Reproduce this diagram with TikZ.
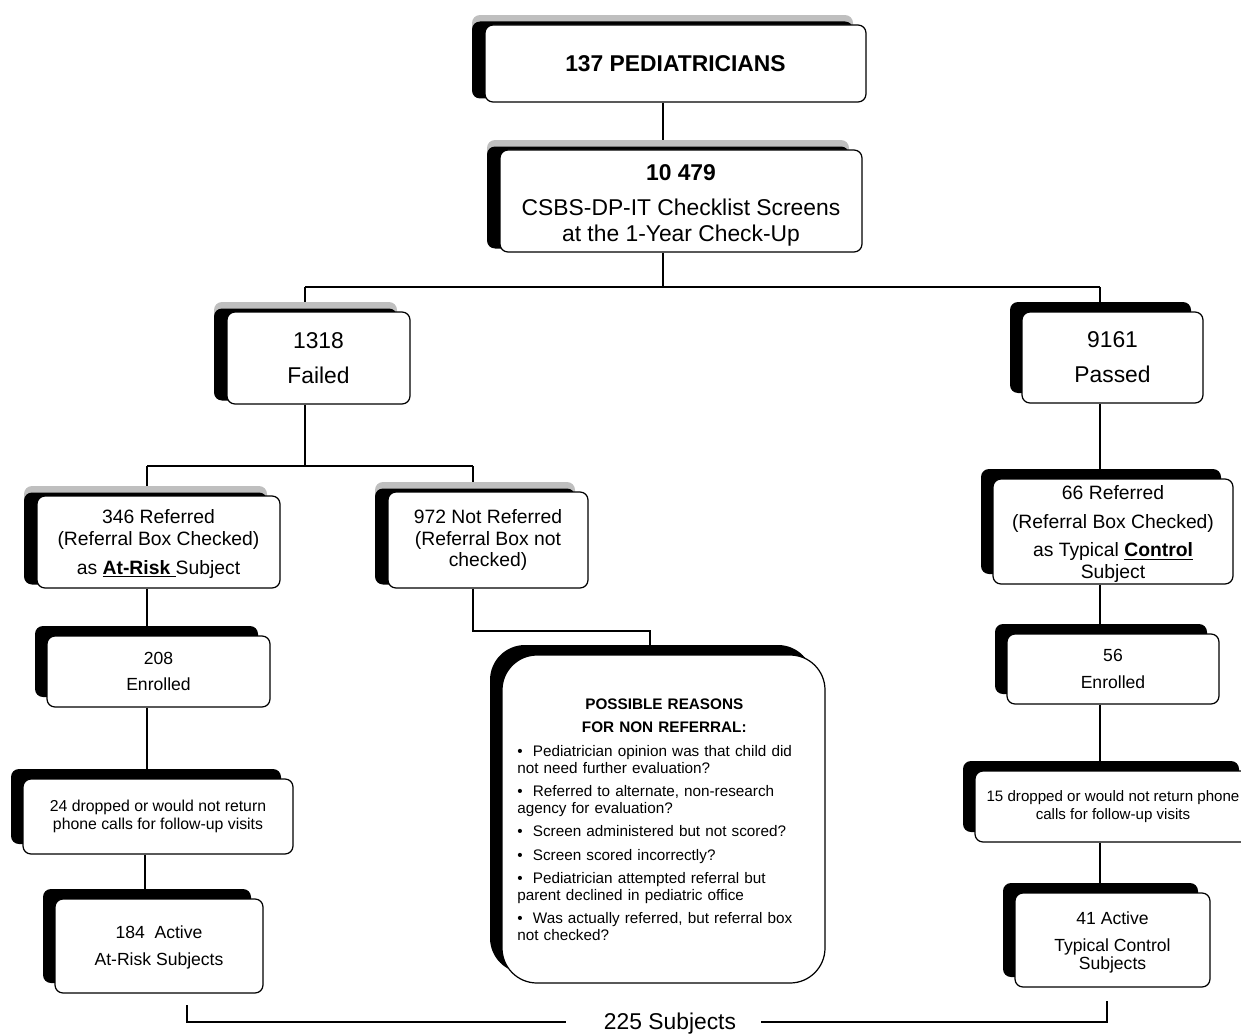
\documentclass[tikz,border=0pt]{standalone}
\usepackage{fontspec}
\setmainfont{Liberation Sans}
\usetikzlibrary{shadows,calc}
\pgfdeclarelayer{bg}
\pgfsetlayers{bg,main}
\tikzset{
  bx/.style={draw=black, line width=0.7pt, fill=white, rounded corners=0.16cm, inner sep=0pt, align=center},
  sz/.style 2 args={minimum width=#1*0.02cm, minimum height=#2*0.02cm},
  bshad/.style={general shadow={fill=black, shadow xshift=-0.24cm, shadow yshift=0.2cm}},
  gshad/.style={general shadow={fill=gray!50, shadow xshift=-0.26cm, shadow yshift=0.2cm},
                general shadow={fill=black, shadow xshift=-0.26cm, shadow yshift=0.07cm}},
  conn/.style={line width=0.75pt, draw=black},
  ftop/.style={font=\fontsize{13}{19.8}\selectfont},
  fmid/.style={font=\fontsize{11}{12.5}\selectfont},
  fenr/.style={font=\fontsize{10}{15.3}\selectfont},
  fsml/.style={font=\fontsize{9}{10.2}\selectfont},
}
\begin{document}
\begin{tikzpicture}[x=0.02cm,y=-0.02cm]
\useasboundingbox (0,0) rectangle (1241,1034);

% top
\node[bx,gshad,ftop,sz={381}{77}] (ped) at (675.5,63.5) {\bfseries 137 PEDIATRICIANS};
\node[bx,gshad,sz={362}{102},font=\fontsize{13}{14.7}\selectfont] (scr) at (681,201)
  {\rule{0pt}{14pt}\bfseries 10 479\\[5.4pt] CSBS-DP-IT Checklist Screens\\ at the 1-Year Check-Up};

% second level
\node[bx,gshad,ftop,sz={183}{92}] (fail) at (318.5,358) {1318\\Failed};
\node[bx,bshad,ftop,sz={181}{91}] (pass) at (1112.5,357.5) {9161\\Passed};

% third level
\node[bx,gshad,fmid,sz={243}{92}] (ref346) at (158.5,542)
  {\rule{0pt}{10pt}346 Referred\\(Referral Box Checked)\\[3.9pt] as \underline{\bfseries At-Risk }Subject};
\node[bx,gshad,font=\fontsize{11}{12.2}\selectfont,sz={200}{96}] (notref) at (488,540)
  {972 Not Referred\\(Referral Box not\\checked)};
\node[bx,bshad,fmid,sz={240}{105}] (ref66) at (1113,531.5)
  {\rule{0pt}{11pt}66 Referred\\[3.9pt](Referral Box Checked)\\[3.9pt] as Typical \underline{\bfseries Control}\\Subject};

% left column
\node[bx,bshad,fenr,sz={223}{71}] (enr208) at (158.5,671.5) {208\\Enrolled};
\node[bx,bshad,fsml,sz={270}{75}] (drop24) at (158,816.5)
  {24 dropped or would not return\\phone calls for follow-up visits};
\node[bx,bshad,fenr,sz={208}{94}] (act184) at (159,946) {\rule{0pt}{9pt}184\ \ Active\\At-Risk Subjects};

% right column
\node[bx,bshad,fenr,sz={212}{70}] (enr56) at (1113,669) {56\\Enrolled};
\node[bx,bshad,font=\fontsize{8.6}{10.2}\selectfont,sz={276}{71}] (drop15) at (1113,806.5)
  {15 dropped or would not return phone\\calls for follow-up visits};
\node[bx,bshad,sz={195}{94},font=\fontsize{10}{9.8}\selectfont] (act41) at (1112.5,940)
  {\rule{0pt}{10pt}41 Active\\[5.5pt]Typical Control\\Subjects};

% reasons box
\node[bx,bshad,rounded corners=0.7cm,sz={323}{328}] (reasons) at (663.5,819) {};
\node[anchor=north west, inner sep=0pt, text width=5.88cm, align=left,
      font=\fontsize{8.7}{9.6}\selectfont] (rtxt) at (517,698) {%
\makebox[5.88cm][c]{\bfseries POSSIBLE REASONS}\\[4pt]
\makebox[5.88cm][c]{\bfseries FOR NON REFERRAL:}\\[3.8pt]
\textbullet\ \ Pediatrician opinion was that child did\\
not need further evaluation?\\[3.7pt]
\textbullet\ \ Referred to alternate, non-research\\
agency for evaluation?\\[3.7pt]
\textbullet\ \ Screen administered but not scored?\\[3.7pt]
\textbullet\ \ Screen scored incorrectly?\\[3.7pt]
\textbullet\ \ Pediatrician attempted referral but\\
parent declined in pediatric office\\[3.7pt]
\textbullet\ \ Was actually referred, but referral box\\
not checked?};

% total
\node[inner sep=0pt, font=\fontsize{13}{15}\selectfont] (tot) at (670,1024) {225 Subjects};
\coordinate (brL) at (187,1005);
\coordinate (brR) at (1107,1001);

\begin{pgfonlayer}{bg}
\draw[conn] (663,0 |- ped.south) -- (663,0 |- scr.north);
\draw[conn] (663,0 |- scr.south) -- (663,287);
\draw[conn] (305,287) -- (1100,287);
\draw[conn] (305,287) -- (305,0 |- fail.north);
\draw[conn] (1100,287) -- (1100,0 |- pass.north);
\draw[conn] (305,0 |- fail.south) -- (305,466);
\draw[conn] (147,466) -- (473,466);
\draw[conn] (147,466) -- (147,0 |- ref346.north);
\draw[conn] (473,466) -- (473,0 |- notref.north);
\draw[conn] (473,0 |- notref.south) -- (473,631) -- (650,631) -- (650,0 |- reasons.north);
\draw[conn] (1100,0 |- pass.south) -- (1100,0 |- ref66.north);
\draw[conn] (147,0 |- ref346.south) -- (147,0 |- enr208.north);
\draw[conn] (147,0 |- enr208.south) -- (147,0 |- drop24.north);
\draw[conn] (145,0 |- drop24.south) -- (145,0 |- act184.north);
\draw[conn] (1100,0 |- ref66.south) -- (1100,0 |- enr56.north);
\draw[conn] (1100,0 |- enr56.south) -- (1100,0 |- drop15.north);
\draw[conn] (1100,0 |- drop15.south) -- (1100,0 |- act41.north);
\end{pgfonlayer}
\draw[conn] (brL) |- ([xshift=-0.75cm,yshift=0.04cm]tot.west);
\draw[conn] (brR) |- ([xshift=0.49cm,yshift=0.04cm]tot.east);
\end{tikzpicture}
\end{document}
